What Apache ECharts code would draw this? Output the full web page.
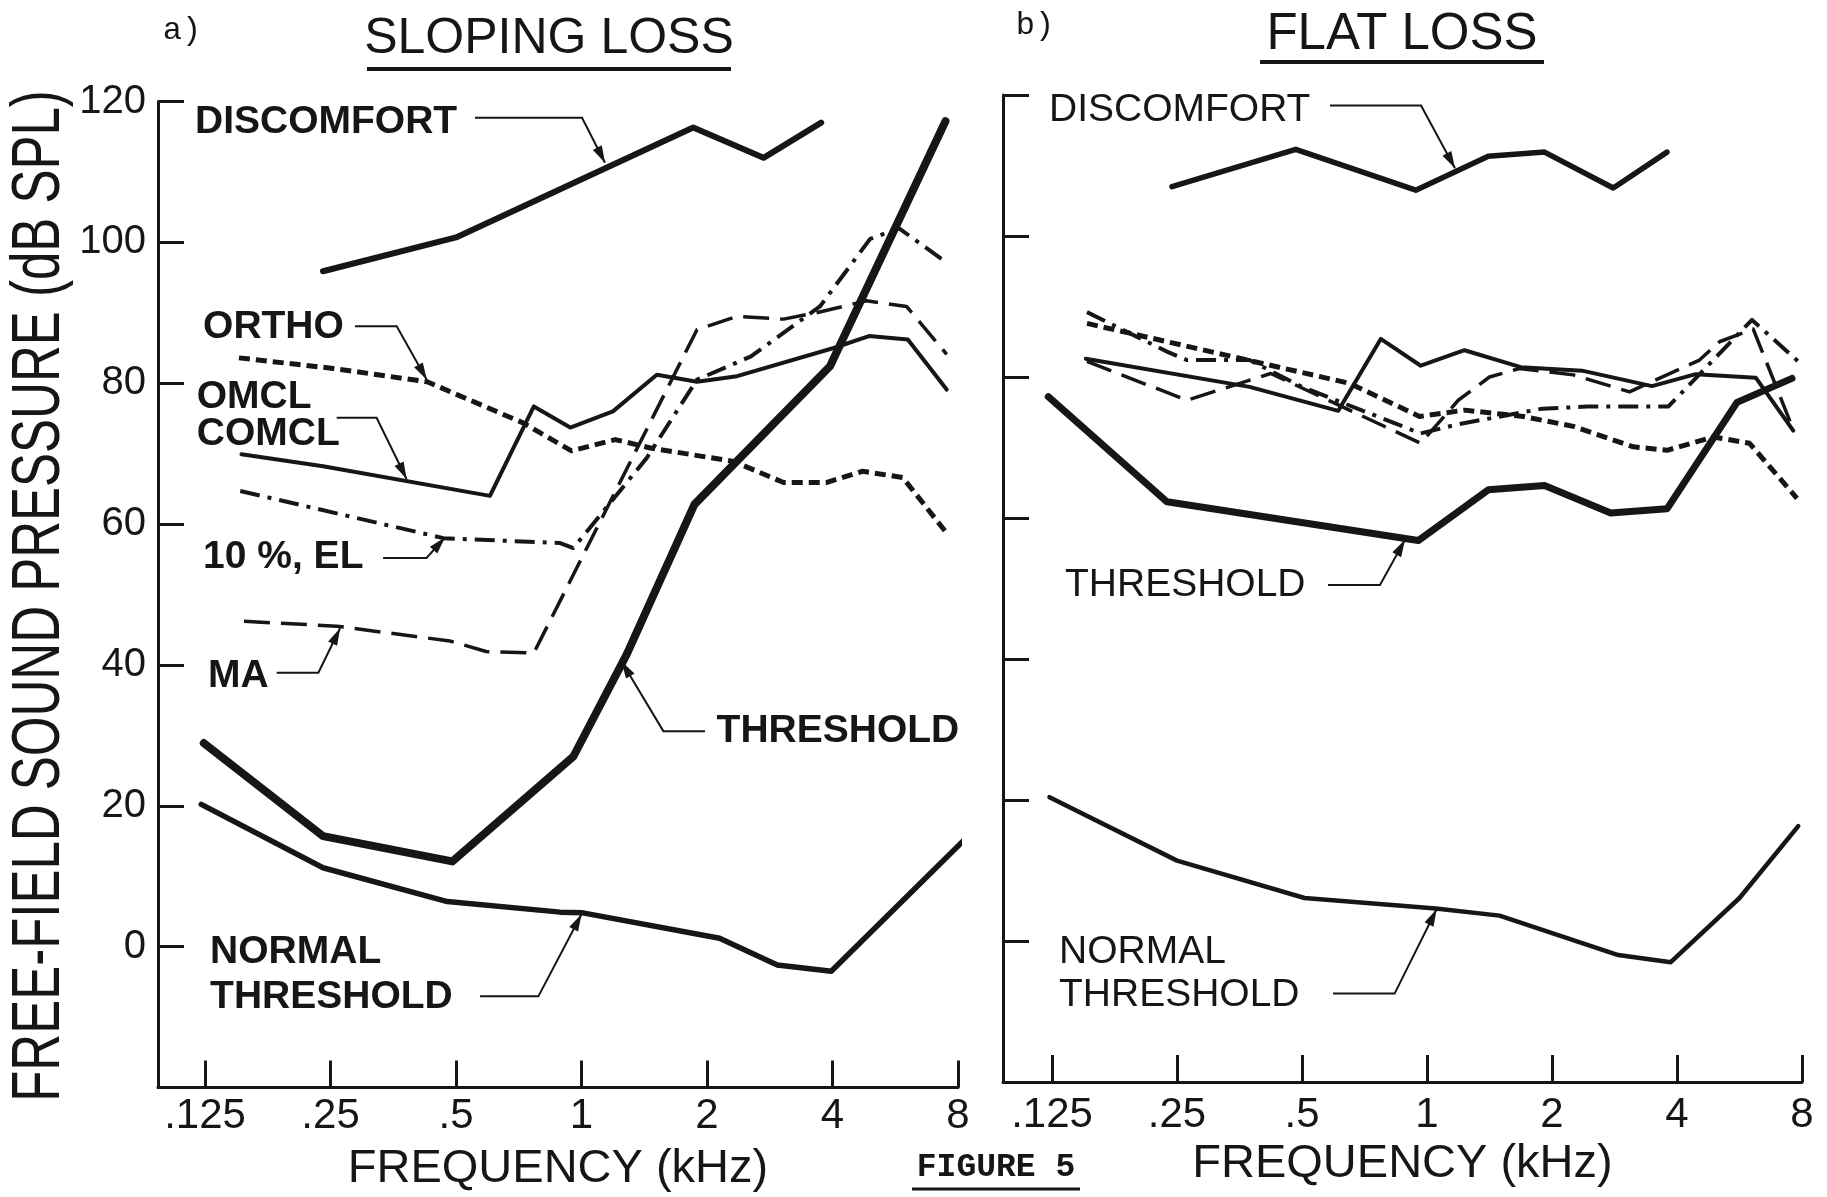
<!DOCTYPE html>
<html>
<head>
<meta charset="utf-8">
<script src="https://cdn.jsdelivr.net/npm/echarts@6/dist/echarts.min.js"></script>
<style>
  html, body { margin: 0; padding: 0; background: #ffffff; }
  #chart { width: 1827px; height: 1197px; }
</style>
</head>
<body>
<div id="chart"></div>
<script>
// Frequency axis runs in octaves re 1 kHz (log2 of kHz).
const tickFreqs = [0.125, 0.25, 0.5, 1, 2, 4, 8];
const tickLabels = ['.125', '.25', '.5', '1', '2', '4', '8'];
const levelTicks = [0, 20, 40, 60, 80, 100, 120];

// a) SLOPING LOSS — points are [octave re 1 kHz, dB SPL]
const slopeDiscomfort = [[-2.06, 95.9], [-1.0, 100.7], [0.89, 116.3], [1.45, 112.0], [1.91, 117.0]];
const slopeOrtho = [[-2.73, 83.6], [-1.98, 82.1], [-1.23, 80.2], [-0.47, 74.4], [-0.08, 70.4], [0.27, 72.0],
  [0.55, 70.8], [1.21, 68.9], [1.61, 65.9], [1.95, 65.9], [2.24, 67.5], [2.56, 66.6], [2.92, 58.5]];
const slopeOmcl = [[-2.71, 69.9], [-2.06, 68.2], [-0.73, 64.0], [-0.38, 76.7], [-0.09, 73.7], [0.25, 76.0],
  [0.6, 81.2], [0.92, 80.2], [1.24, 81.0], [2.01, 85.0], [2.29, 86.7], [2.6, 86.2], [2.91, 79.1]];
const slopeEl10 = [[-2.72, 64.7], [-1.1, 58.0], [-0.17, 57.3], [-0.065, 56.6], [0.52, 69.4], [0.92, 80.5],
  [1.35, 83.8], [1.9, 90.9], [2.3, 100.5], [2.53, 102.0], [2.91, 97.1]];
const slopeMa = [[-2.69, 46.2], [-1.95, 45.5], [-1.05, 43.4], [-0.76, 41.9], [-0.38, 41.7], [0.92, 87.6],
  [1.24, 89.5], [1.61, 89.1], [1.87, 90.0], [2.27, 91.7], [2.59, 90.9], [2.91, 84.1]];
const slopeThreshold = [[-3.01, 28.9], [-2.06, 15.7], [-1.03, 12.1], [-0.065, 27.0], [0.36, 41.5],
  [0.9, 62.8], [1.98, 82.4], [2.9, 117.2]];
const slopeNormal = [[-3.03, 20.2], [-2.06, 11.2], [-1.07, 6.4], [-0.17, 4.9], [0.01, 4.8], [1.1, 1.2],
  [1.56, -2.6], [1.99, -3.5], [3.08, 15.7]];

// b) FLAT LOSS
const flatDiscomfort = [[-2.04, 107.0], [-1.05, 112.3], [-0.09, 106.5], [0.49, 111.3], [0.94, 111.9],
  [1.49, 106.8], [1.92, 111.9]];
const flatOrtho = [[-2.72, 87.6], [-0.62, 79.1], [-0.06, 74.4], [0.3, 75.3], [0.77, 74.4], [1.17, 73.0],
  [1.65, 70.1], [1.92, 69.6], [2.29, 71.5], [2.58, 70.6], [2.96, 62.8]];
const flatOmcl = [[-2.73, 82.6], [-1.42, 78.6], [-0.71, 75.2], [-0.37, 85.4], [-0.05, 81.6], [0.3, 83.8],
  [0.75, 81.4], [1.24, 80.9], [1.8, 78.7], [2.15, 80.4], [2.63, 79.9], [2.93, 72.4]];
const flatEl10 = [[-2.72, 89.2], [-2.08, 83.6], [-1.92, 82.4], [-1.42, 82.4], [-1.0, 78.6], [-0.05, 72.0],
  [0.25, 73.3], [0.92, 75.5], [1.28, 75.8], [1.93, 75.8], [2.6, 88.1], [2.97, 82.2]];
const flatMa = [[-2.72, 82.2], [-1.92, 76.7], [-1.25, 80.5], [-0.05, 70.6], [0.25, 76.7], [0.5, 80.0],
  [0.74, 81.2], [1.17, 80.3], [1.62, 77.9], [2.18, 82.4], [2.34, 85.0], [2.61, 86.8], [2.92, 73.0]];
const flatThreshold = [[-3.03, 77.2], [-2.08, 62.3], [-0.07, 56.8], [0.49, 64.0], [0.94, 64.6],
  [1.47, 60.7], [1.92, 61.3], [2.48, 76.4], [2.92, 79.8]];
const flatNormal = [[-3.02, 20.4], [-2.0, 11.4], [-0.98, 6.1], [0.07, 4.6], [0.58, 3.6], [1.53, -2.0],
  [1.95, -3.0], [2.5, 6.1], [2.97, 16.3]];

const ink = '#161616';
const sans = '"Liberation Sans", Arial, Helvetica, sans-serif';
const mono = '"Liberation Mono", "Courier New", monospace';
const tickPos = tickFreqs.map(f => Math.log2(f));

const chart = echarts.init(document.getElementById('chart'), null, { renderer: 'canvas' });

function xAxisFor(idx, min, labelMargin, nameGap) {
  return {
    type: 'value', gridIndex: idx, min: min, max: 3,
    axisLine: { show: true, onZero: false, lineStyle: { color: ink, width: 3 } },
    axisTick: { show: true, inside: true, length: 27, customValues: tickPos, lineStyle: { color: ink, width: 3 } },
    axisLabel: {
      show: true, customValues: tickPos, margin: labelMargin, color: ink,
      fontSize: 42, fontFamily: sans,
      formatter: v => tickLabels[Math.round(v) + 3]
    },
    splitLine: { show: false },
    name: 'FREQUENCY (kHz)', nameLocation: 'middle', nameGap: nameGap,
    nameTextStyle: { color: ink, fontSize: 47, fontFamily: sans, verticalAlign: 'middle' }
  };
}

function yAxisFor(idx, showLabels) {
  return {
    type: 'value', gridIndex: idx, min: -20, max: 120,
    axisLine: { show: true, onZero: false, lineStyle: { color: ink, width: 3 } },
    axisTick: { show: true, inside: true, length: 26, customValues: levelTicks, lineStyle: { color: ink, width: 3 } },
    axisLabel: {
      show: showLabels, customValues: levelTicks, margin: 12, color: ink,
      fontSize: 40, fontFamily: sans
    },
    splitLine: { show: false }
  };
}

function curve(idx, data, width, dash, z) {
  return {
    type: 'line', xAxisIndex: idx, yAxisIndex: idx, data: data,
    symbol: 'none', silent: true, animation: false, z: z || 2,
    lineStyle: { color: ink, width: width, type: dash || 'solid', cap: dash ? 'butt' : 'round', join: 'round' }
  };
}

const orthoDash = [11, 6];
const elDash = [20, 8, 4, 8];
const maDash = [26, 11];

chart.setOption({
  backgroundColor: '#ffffff',
  animation: false,
  grid: [
    { left: 158, top: 101.5, width: 800, height: 986, containLabel: false, outerBoundsMode: 'none' },
    { left: 1003, top: 95, width: 799, height: 987, containLabel: false, outerBoundsMode: 'none' }
  ],
  xAxis: [xAxisFor(0, -3.375, 8, 82), xAxisFor(1, -3.392, 12, 82)],
  yAxis: [yAxisFor(0, true), yAxisFor(1, false)],
  series: [
    curve(0, slopeDiscomfort, 6),
    curve(0, slopeOrtho, 5, orthoDash),
    curve(0, slopeOmcl, 4),
    curve(0, slopeEl10, 4, elDash),
    curve(0, slopeMa, 3.5, maDash),
    curve(0, slopeThreshold, 8, null, 3),
    curve(0, slopeNormal, 5.5),
    curve(1, flatDiscomfort, 5.5),
    curve(1, flatOrtho, 5, orthoDash),
    curve(1, flatOmcl, 4),
    curve(1, flatEl10, 4, elDash),
    curve(1, flatMa, 3.5, maDash),
    curve(1, flatThreshold, 7, null, 3),
    curve(1, flatNormal, 4.5)
  ]
});

// Curve labels with leader lines, anchored in data coordinates of each panel.
const notes = [
  { g: 0, w: 'bold', lines: [['DISCOMFORT', -3.08, 117.0]], path: [[-0.849, 117.7], [0.004, 117.7], [0.187, 111.3]] },
  { g: 0, w: 'bold', lines: [['ORTHO', -3.016, 87.9]], path: [[-1.805, 88.1], [-1.473, 88.1], [-1.233, 80.5]] },
  { g: 0, w: 'bold', lines: [['OMCL', -3.066, 78.0], ['COMCL', -3.066, 72.7]], path: [[-1.951, 75.1], [-1.633, 75.1], [-1.394, 66.4]] },
  { g: 0, w: 'bold', lines: [['10 %, EL', -3.016, 55.3]], path: [[-1.581, 55.2], [-1.235, 55.2], [-1.088, 58.1]] },
  { g: 0, w: 'bold', lines: [['MA', -2.976, 38.4]], path: [[-2.429, 38.9], [-2.097, 38.9], [-1.924, 45.2]] },
  { g: 0, w: 'bold', lines: [['NORMAL', -2.96, -0.85], ['THRESHOLD', -2.96, -7.2]], path: [[-0.809, -7.06], [-0.344, -7.06], [0.0, 4.6]] },
  { g: 0, w: 'bold', lines: [['THRESHOLD', 1.076, 30.6]], path: [[0.984, 30.6], [0.652, 30.6], [0.319, 40.5]] },
  { g: 1, w: 'normal', lines: [['DISCOMFORT', -3.024, 117.8]], path: [[-0.776, 118.5], [-0.048, 118.5], [0.224, 109.6]] },
  { g: 1, w: 'normal', lines: [['THRESHOLD', -2.896, 50.5]], path: [[-0.792, 50.5], [-0.376, 50.5], [-0.176, 56.9]] },
  { g: 1, w: 'normal', lines: [['NORMAL', -2.944, -1.6], ['THRESHOLD', -2.944, -7.7]], path: [[-0.752, -7.46], [-0.259, -7.46], [0.077, 4.5]] }
];

const graphics = [];
const toPx = (g, p) => chart.convertToPixel({ xAxisIndex: g, yAxisIndex: g }, p);

notes.forEach(n => {
  n.lines.forEach(([txt, x, y]) => {
    const p = toPx(n.g, [x, y]);
    graphics.push({
      type: 'text', x: p[0], y: p[1], silent: true,
      style: { text: txt, fill: ink, font: n.w + ' 39px ' + sans, textAlign: 'left', textVerticalAlign: 'middle', align: 'left', verticalAlign: 'middle' }
    });
  });
  const pts = n.path.map(p => toPx(n.g, p));
  graphics.push({
    type: 'polyline', silent: true,
    shape: { points: pts },
    style: { stroke: ink, lineWidth: 2, fill: null }
  });
  const tip = pts[pts.length - 1], prev = pts[pts.length - 2];
  const dx = tip[0] - prev[0], dy = tip[1] - prev[1];
  const len = Math.hypot(dx, dy), ux = dx / len, uy = dy / len;
  const L = 17, W = 5;
  graphics.push({
    type: 'polygon', silent: true,
    shape: { points: [tip, [tip[0] - L * ux - W * uy, tip[1] - L * uy + W * ux], [tip[0] - L * ux + W * uy, tip[1] - L * uy - W * ux]] },
    style: { fill: ink }
  });
});

// Panel headings, shared level title and figure caption.
graphics.push(
  { type: 'text', x: 182, y: 31, silent: true, style: { text: 'a)', fill: ink, font: '32px ' + mono, textAlign: 'center', textVerticalAlign: 'middle', align: 'center', verticalAlign: 'middle' } },
  { type: 'text', x: 1035, y: 26, silent: true, style: { text: 'b)', fill: ink, font: '32px ' + mono, textAlign: 'center', textVerticalAlign: 'middle', align: 'center', verticalAlign: 'middle' } },
  { type: 'text', x: 549, y: 39, silent: true, style: { text: 'SLOPING LOSS', fill: ink, font: '50px ' + sans, textAlign: 'center', textVerticalAlign: 'middle', align: 'center', verticalAlign: 'middle' } },
  { type: 'text', x: 1402, y: 35, silent: true, style: { text: 'FLAT LOSS', fill: ink, font: '51px ' + sans, textAlign: 'center', textVerticalAlign: 'middle', align: 'center', verticalAlign: 'middle' } },
  { type: 'line', silent: true, shape: { x1: 367, y1: 69, x2: 731, y2: 69 }, style: { stroke: ink, lineWidth: 4 } },
  { type: 'line', silent: true, shape: { x1: 1260, y1: 62, x2: 1544, y2: 62 }, style: { stroke: ink, lineWidth: 4 } },
  {
    type: 'text', x: 40, y: 596, rotation: Math.PI / 2, scaleY: 1.35, silent: true,
    style: { text: 'FREE-FIELD SOUND PRESSURE (dB SPL)', fill: ink, font: '51px ' + sans, textAlign: 'center', textVerticalAlign: 'middle', align: 'center', verticalAlign: 'middle' }
  },
  { type: 'text', x: 996, y: 1168, silent: true, style: { text: 'FIGURE 5', fill: ink, font: 'bold 33px ' + mono, textAlign: 'center', textVerticalAlign: 'middle', align: 'center', verticalAlign: 'middle' } },
  { type: 'line', silent: true, shape: { x1: 912, y1: 1189, x2: 1080, y2: 1189 }, style: { stroke: ink, lineWidth: 3 } }
);

chart.setOption({ graphic: graphics });
</script>
</body>
</html>
